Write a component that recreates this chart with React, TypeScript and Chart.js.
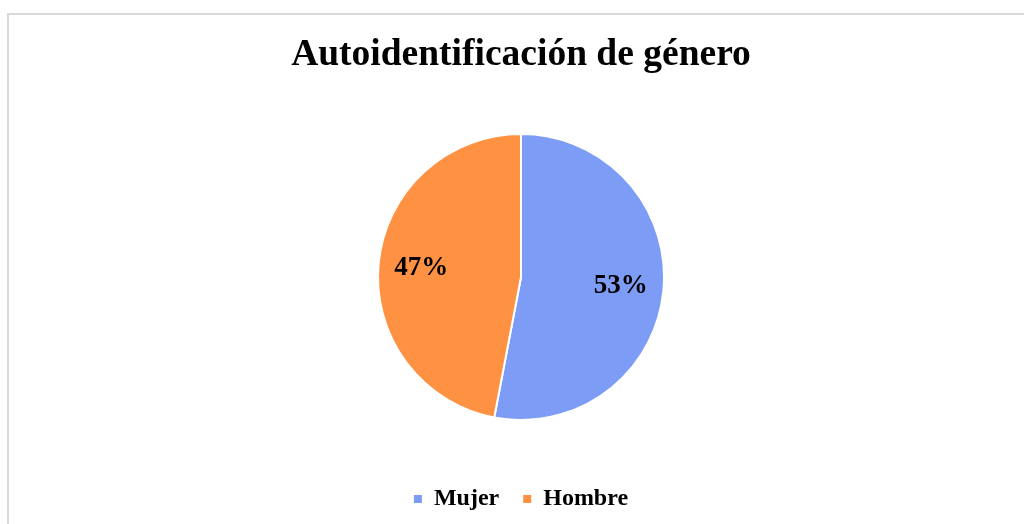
import React, { useEffect, useRef } from "react";
import { Chart, registerables } from "chart.js";

Chart.register(...registerables);

const TITLE = "Autoidentificación de género";
const categories = ["Mujer", "Hombre"];
const values = [53, 47];
const colors = ["#7C9CF5", "#FF9142"];

const FONT = "'Liberation Serif', 'Times New Roman', serif";

const pctLabels = {
  id: "pctLabels",
  afterDatasetsDraw(chart: any) {
    const ctx = chart.ctx;
    const meta = chart.getDatasetMeta(0);
    const total = values.reduce((a, b) => a + b, 0);
    ctx.save();
    ctx.font = `bold 27px ${FONT}`;
    ctx.fillStyle = "#000";
    ctx.textAlign = "center";
    ctx.textBaseline = "middle";
    meta.data.forEach((arc: any, i: number) => {
      const p = arc.getProps(["x", "y", "startAngle", "endAngle", "outerRadius"], true);
      const mid = (p.startAngle + p.endAngle) / 2;
      const r = p.outerRadius * 0.7;
      const pct = Math.round((values[i] / total) * 100) + "%";
      ctx.fillText(pct, p.x + Math.cos(mid) * r, p.y + Math.sin(mid) * r);
    });
    ctx.restore();
  },
};

export default function App() {
  const ref = useRef<HTMLCanvasElement>(null);
  useEffect(() => {
    document.body.style.overflow = "hidden";
    const chart = new Chart(ref.current!, {
      type: "pie",
      data: {
        labels: categories,
        datasets: [
          {
            data: values,
            backgroundColor: colors,
            borderColor: "#ffffff",
            borderWidth: 2,
            radius: 143,
          },
        ],
      },
      options: {
        responsive: false,
        animation: false,
        layout: { padding: { top: 0, bottom: 3, left: 0, right: 0 } },
        plugins: {
          title: {
            display: true,
            text: TITLE,
            color: "#000",
            font: { family: FONT, size: 37.5, weight: "bold", lineHeight: 1.2 },
            padding: { top: 17.5, bottom: 13.5 },
          },
          legend: {
            position: "bottom",
            labels: {
              color: "#000",
              boxWidth: 8,
              boxHeight: 8,
              padding: 24,
              font: { family: FONT, size: 24, weight: "bold" },
              generateLabels: (chart: any) =>
                Chart.overrides.pie.plugins.legend.labels
                  .generateLabels(chart)
                  .map((l: any) => ({ ...l, lineWidth: 0, strokeStyle: "rgba(0,0,0,0)" })),
            },
          },
          tooltip: { enabled: false },
        },
      },
      plugins: [pctLabels],
    });
    return () => chart.destroy();
  }, []);

  return (
    <>
      <div
        style={{
          position: "absolute",
          left: 7,
          top: 13,
          width: 1100,
          height: 600,
          border: "2px solid #D9D9D9",
          boxSizing: "border-box",
        }}
      />
      <canvas
        ref={ref}
        width={1024}
        height={509}
        style={{ position: "absolute", left: 9, top: 15, width: 1024, height: 509 }}
      />
    </>
  );
}
